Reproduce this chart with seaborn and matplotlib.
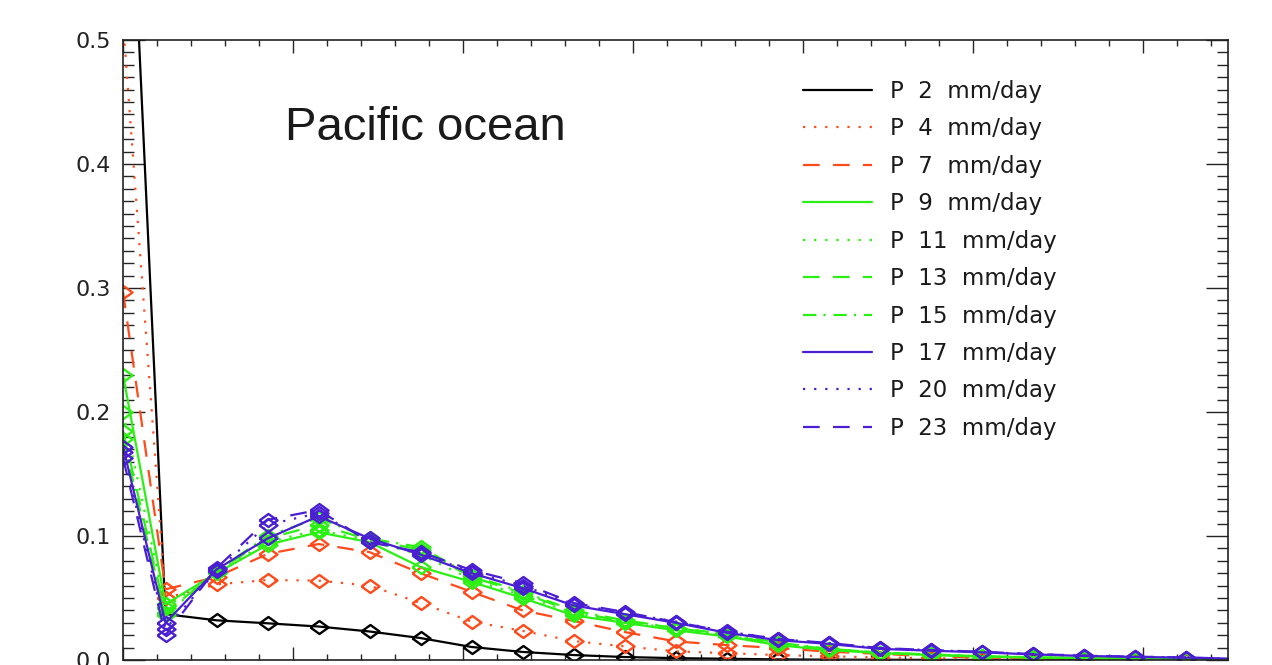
import matplotlib
matplotlib.use("Agg")
import matplotlib.pyplot as plt
from matplotlib.lines import Line2D
from matplotlib.ticker import MultipleLocator
import seaborn as sns
import pandas as pd

# bin positions (first bin sits on the left axis, last one just past the right edge)
x_vals = [0, 2.5, 5.5, 8.5, 11.5, 14.5, 17.5, 20.5, 23.5, 26.5, 29.5, 32.5,
          35.5, 38.5, 41.5, 44.5, 47.5, 50.5, 53.5, 56.5, 59.5, 62.5, 65.5]

rain_rates = [2, 4, 7, 9, 11, 13, 15, 17, 20, 23]

p2 = [0.78, 0.037, 0.032, 0.0296, 0.027, 0.023, 0.0177, 0.0105, 0.0065, 0.004, 0.0024, 0.0015,
      0.001, 0.0005, 0.0003, 0.0002, 0.0001, 0.0001, 0, 0, 0, 0, 0]
p4 = [0.515, 0.050, 0.061, 0.0645, 0.064, 0.060, 0.046, 0.031, 0.0235, 0.0153, 0.011, 0.007,
      0.0055, 0.004, 0.003, 0.002, 0.0015, 0.001, 0.0008, 0.0005, 0.0003, 0.0002, 0.0001]
p7 = [0.297, 0.057, 0.067, 0.0855, 0.0935, 0.087, 0.070, 0.055, 0.040, 0.0315, 0.0226, 0.015,
      0.012, 0.0097, 0.0067, 0.005, 0.003, 0.002, 0.0015, 0.001, 0.0008, 0.0005, 0.0003]
p9 = [0.23, 0.045, 0.070, 0.093, 0.103, 0.095, 0.075, 0.063, 0.050, 0.036, 0.030, 0.024,
      0.019, 0.012, 0.008, 0.0056, 0.004, 0.0027, 0.002, 0.0015, 0.001, 0.0007, 0.0005]
p11 = [0.20, 0.042, 0.071, 0.095, 0.105, 0.096, 0.085, 0.065, 0.052, 0.038, 0.031, 0.025,
       0.020, 0.013, 0.0085, 0.006, 0.0042, 0.003, 0.0022, 0.0016, 0.0011, 0.0008, 0.0005]
p13 = [0.185, 0.038, 0.071, 0.098, 0.109, 0.097, 0.089, 0.067, 0.054, 0.039, 0.031, 0.026,
       0.020, 0.013, 0.009, 0.006, 0.0045, 0.003, 0.0022, 0.0016, 0.0012, 0.0008, 0.0005]
p15 = [0.178, 0.036, 0.072, 0.100, 0.1145, 0.098, 0.091, 0.068, 0.055, 0.040, 0.032, 0.026,
       0.021, 0.014, 0.009, 0.006, 0.0045, 0.003, 0.0022, 0.0016, 0.0012, 0.0008, 0.0005]
p17 = [0.172, 0.030, 0.073, 0.098, 0.116, 0.098, 0.085, 0.070, 0.058, 0.044, 0.037, 0.030,
       0.022, 0.016, 0.013, 0.009, 0.0075, 0.0062, 0.0045, 0.0033, 0.0025, 0.0019, 0.001]
p20 = [0.168, 0.025, 0.072, 0.109, 0.1185, 0.096, 0.086, 0.071, 0.060, 0.045, 0.038, 0.031,
       0.023, 0.017, 0.0135, 0.0095, 0.008, 0.0065, 0.0048, 0.0035, 0.0027, 0.002, 0.001]
p23 = [0.163, 0.020, 0.074, 0.113, 0.121, 0.095, 0.087, 0.0725, 0.062, 0.046, 0.0387, 0.0306,
       0.0229, 0.017, 0.0137, 0.0097, 0.008, 0.0067, 0.0048, 0.0035, 0.0027, 0.002, 0.001]

series = [p2, p4, p7, p9, p11, p13, p15, p17, p20, p23]

BLACK = "#000000"
ORANGE = "#ff4b1c"
GREEN = "#2cf014"
BLUE = "#4a1ed2"
colors = [BLACK, ORANGE, ORANGE, GREEN, GREEN, GREEN, GREEN, BLUE, BLUE, BLUE]

DOT = (0, (1, 4))
DASH = (0, (7.5, 6))
DASHDOT = (0, (6, 3.2, 1, 3.5))
styles = ["-", DOT, DASH, "-", DOT, DASH, DASHDOT, "-", DOT, DASH]

# flattened open diamond
diamond = [(-1, 0), (0, 0.72), (1, 0), (0, -0.72), (-1, 0)]

sns.set_style("ticks")
plt.rcParams["font.family"] = ["DejaVu Sans"]

fig = plt.figure(figsize=(12.72, 6.65), dpi=100)
ax = fig.add_axes([123 / 1272, 5 / 665, 1105 / 1272, 620 / 665])

for rate, vals, col, ls in zip(rain_rates, series, colors, styles):
    df = pd.DataFrame({"x": x_vals, "y": vals})
    sns.lineplot(data=df, x="x", y="y", ax=ax, color=col, linestyle=ls, linewidth=1.6,
                 marker=diamond, markersize=13, markerfacecolor="none",
                 markeredgecolor=col, mew=1.7, sort=False, errorbar=None)

ax.set_xlim(0, 65)
ax.set_ylim(0, 0.5)
ax.set_xlabel("")
ax.set_ylabel("")

ax.xaxis.set_major_locator(MultipleLocator(10))
ax.xaxis.set_minor_locator(MultipleLocator(2))
ax.yaxis.set_major_locator(MultipleLocator(0.1))
ax.yaxis.set_minor_locator(MultipleLocator(0.01))
ax.yaxis.set_major_formatter(matplotlib.ticker.FormatStrFormatter("%.1f"))

ax.tick_params(axis="x", which="major", direction="in", length=9.5, width=1.0,
               top=True, bottom=True, labelbottom=False)
ax.tick_params(axis="x", which="minor", direction="in", length=4.5, width=1.0,
               top=True, bottom=True)
ax.tick_params(axis="y", which="major", direction="in", length=15.5, width=1.0,
               left=True, right=True, labelsize=16, pad=9, colors="#222222")
ax.tick_params(axis="y", which="minor", direction="in", length=8, width=1.0,
               left=True, right=True)
for sp in ax.spines.values():
    sp.set_visible(True)
    sp.set_linewidth(1.2)
    sp.set_color("#222222")

fig.text(285 / 1272, 1 - 128 / 665, "Pacific ocean", family="Liberation Sans",
         fontsize=34, va="center", ha="left", color="#1a1a1a")

handles = [Line2D([], [], color=c, linestyle=s, linewidth=1.6) for c, s in zip(colors, styles)]
labels = [f"P  {r}  mm/day" for r in rain_rates]
fig.legend(handles, labels, loc="upper left", bbox_to_anchor=(803 / 1272, 1 - 80 / 665),
           frameon=False, fontsize=16.5, handlelength=3.0, handletextpad=0.8,
           labelspacing=0.63, borderpad=0, borderaxespad=0, labelcolor="#1a1a1a")

fig.savefig("out.png", dpi=100)
